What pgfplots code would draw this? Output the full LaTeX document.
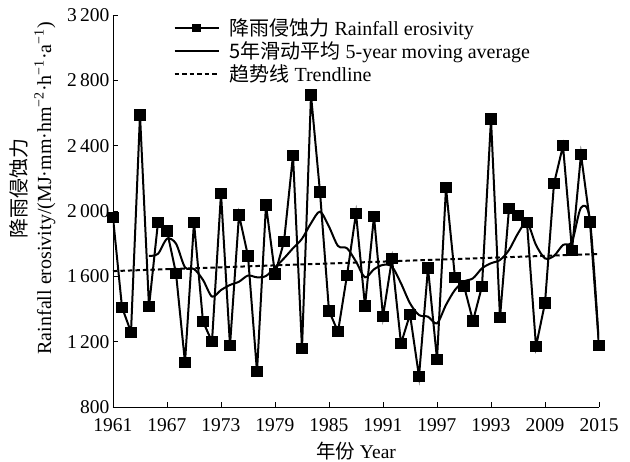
\documentclass[border=0pt]{standalone}
\usepackage{fontspec}
\setmainfont{Liberation Serif}
\newfontfamily\cjk{Noto Sans CJK SC}
\usepackage{pgfplots}
\pgfplotsset{compat=1.18}

\pgfplotstableread{
year val
1961 1960
1962 1411
1963 1258
1964 2588
1965 1414
1966 1931
1967 1878
1968 1619
1969 1072
1970 1931
1971 1323
1972 1200
1973 2108
1974 1176
1975 1976
1976 1725
1977 1016
1978 2037
1979 1614
1980 1812
1981 2341
1982 1159
1983 2710
1984 2116
1985 1388
1986 1261
1987 1606
1988 1986
1989 1418
1990 1968
1991 1355
1992 1707
1993 1188
1994 1367
1995 987
1996 1651
1997 1092
1998 2142
1999 1592
2000 1541
2001 1327
2002 1539
2003 2563
2004 1347
2005 2015
2006 1974
2007 1929
2008 1171
2009 1437
2010 2168
2011 2399
2012 1760
2013 2346
2014 1933
2015 1177
}\erosivity

\pgfplotstableread{
year ma
1965 1725
1966 1738
1967 1830
1968 1800
1969 1655
1970 1645
1971 1578
1972 1476
1973 1516
1974 1547
1975 1567
1976 1605
1977 1594
1978 1602
1979 1655
1980 1710
1981 1772
1982 1830
1983 1925
1984 1996
1985 1904
1986 1786
1987 1772
1988 1690
1989 1594
1990 1643
1991 1670
1992 1659
1993 1557
1994 1435
1995 1363
1996 1353
1997 1312
1998 1425
1999 1517
2000 1568
2001 1588
2002 1649
2003 1680
2004 1700
2005 1761
2006 1863
2007 1929
2008 1792
2009 1710
2010 1725
2011 1792
2012 1812
2013 2020
2014 1940
2015 1177
}\movavg

\begin{document}
\begin{tikzpicture}
\begin{axis}[
  scale only axis,
  width=486pt, height=392pt,
  xmin=1961, xmax=2015, ymin=800, ymax=3200,
  axis x line*=bottom, axis y line*=left,
  axis line style={-, line width=0.9pt},
  tick align=inside, major tick length=5pt,
  tick style={black, line width=0.9pt},
  xtick={1961,1967,1973,1979,1985,1991,1997,2003,2009,2015},
  xticklabels={1961,1967,1973,1979,1985,1991,1997,1993,2009,2015},
  ytick={800,1200,1600,2000,2400,2800,3200},
  /pgf/number format/assume math mode=true,
  /pgf/number format/1000 sep={\,},
  ticklabel style={font=\fontsize{19.5}{22}\selectfont},
  xticklabel style={yshift=-8pt},
  xlabel={{\cjk 年份} Year},
  xlabel style={font=\fontsize{19.5}{22}\selectfont, yshift=-3pt},
  ylabel={{\cjk 降雨侵蚀力}\\Rainfall erosivity/(MJ·mm·hm\textsuperscript{−2}·h\textsuperscript{−1}·a\textsuperscript{−1})},
  ylabel style={font=\fontsize{20}{25}\selectfont, align=center,
    at={(axis description cs:-0.166,0.558)}, anchor=center, rotate=0},
  legend cell align=left,
  legend style={draw=none, fill=none, at={(rel axis cs:0.118,0.997)}, anchor=north west,
    font=\fontsize{20}{22}\selectfont, row sep=3.5pt,
    nodes={inner ysep=0.5pt, inner xsep=3pt},
    /tikz/every odd column/.append style={column sep=7pt}},
  legend image code/.code={\draw[mark repeat=2,mark phase=2,#1,mark size=3.4pt] plot coordinates {(0pt,0pt) (22pt,0pt) (44pt,0pt)};},
]
\addplot[black, line width=2pt, mark=square*, mark size=4.6pt, mark options={solid}] table[x=year,y=val] {\erosivity};
\addlegendentry{{\cjk 降雨侵蚀力} Rainfall erosivity}
\addplot[black, line width=2pt, smooth, tension=0.5] table[x=year,y=ma] {\movavg};
\addlegendentry{{\cjk 5年滑动平均} 5-year moving average}
\addplot[black, line width=2pt, dash pattern=on 4.5pt off 3pt] coordinates {(1961,1632) (2015,1737)};
\addlegendentry{{\cjk 趋势线} Trendline}
\end{axis}
\pgfresetboundingbox
\path (-113pt,-55pt) rectangle (517pt,407pt);
\end{tikzpicture}
\end{document}
